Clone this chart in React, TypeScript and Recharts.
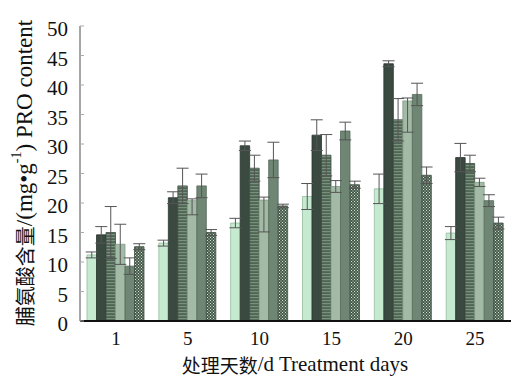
import React from 'react';
import { BarChart, Bar, XAxis, YAxis, ErrorBar } from 'recharts';

// Treatment days (categories)
const days = ['1', '5', '10', '15', '20', '25'];

// Six treatments, PRO content (mg·g-1)
const s1 = [11.2, 13.2, 16.6, 21.1, 22.4, 14.9];
const s2 = [14.6, 20.9, 29.7, 31.5, 43.6, 27.7];
const s3 = [15.0, 22.9, 25.9, 28.1, 34.1, 26.7];
const s4 = [13.0, 20.4, 20.5, 22.8, 37.3, 23.5];
const s5 = [9.3, 22.9, 27.3, 32.2, 38.4, 20.4];
const s6 = [12.6, 15.0, 19.5, 23.1, 24.7, 16.6];

// Error bars ([lower, upper] where asymmetric)
const e1 = [0.5, 0.5, 0.8, 2.2, 2.5, 1.1];
const e2 = [1.4, 1.0, 0.8, 2.6, 0.5, 2.4];
const e3 = [4.4, 3.0, 2.2, 3.5, 3.6, 1.4];
const e4: (number | [number, number])[] = [3.4, [2.4, 0.3], [5.4, 0.5], 1.0, [5.3, 0.5], 0.7];
const e5 = [1.4, 2.0, 3.0, 1.5, 1.9, 1.0];
const e6 = [0.5, 0.5, 0.3, 0.6, 1.4, 1.0];

const yTicks = [0, 5, 10, 15, 20, 25, 30, 35, 40, 45, 50];

const data = days.map((d, i) => ({
  day: d,
  s1: s1[i], e1: e1[i],
  s2: s2[i], e2: e2[i],
  s3: s3[i], e3: e3[i],
  s4: s4[i], e4: e4[i],
  s5: s5[i], e5: e5[i],
  s6: s6[i], e6: e6[i],
}));

const SERIF = '"Liberation Serif", "Times New Roman", "Noto Sans CJK SC", serif';

const YTitle = () => (
  <text
    x={24}
    y={173}
    transform="rotate(-90, 24, 173)"
    textAnchor="middle"
    dominantBaseline="central"
    fontFamily={SERIF}
    fontSize={23}
    fill="#111"
  >
    <tspan fontFamily='"Noto Sans CJK SC"' fontSize={20}>脯氨酸含量</tspan>
    <tspan>/(mg•g</tspan>
    <tspan fontSize={14} dy={-8}>-1</tspan>
    <tspan dy={8}>) PRO content</tspan>
  </text>
);

const XTitle = () => (
  <text
    x={295}
    y={364}
    textAnchor="middle"
    dominantBaseline="central"
    fontFamily={SERIF}
    fontSize={21}
    fill="#111"
  >
    <tspan fontFamily='"Noto Sans CJK SC"' fontSize={19}>处理天数</tspan>
    <tspan>/d Treatment days</tspan>
  </text>
);

const errProps = { stroke: '#555', strokeWidth: 1, width: 6, direction: 'y' as const, isAnimationActive: false };

export default function App() {
  return (
    <div style={{ position: 'absolute', left: 0, top: 0, background: '#fff' }}>
      <BarChart
        width={512}
        height={378}
        data={data}
        margin={{ top: 26, right: 1, left: 0, bottom: 0 }}
        barGap={0}
        barSize={9.5}
      >
        <defs>
          <pattern id="stripes" patternUnits="userSpaceOnUse" width={4} height={3}>
            <rect x={0} y={0} width={4} height={3} fill="#4f6554" />
            <rect x={0} y={0} width={4} height={1.2} fill="#7a917d" />
          </pattern>
          <pattern id="checker" patternUnits="userSpaceOnUse" width={3} height={3}>
            <rect x={0} y={0} width={3} height={3} fill="#475b4b" />
            <rect x={0} y={0} width={1} height={1} fill="#d2e0d2" />
            <rect x={1.5} y={1.5} width={1} height={1} fill="#d2e0d2" />
          </pattern>
        </defs>
        <XAxis
          dataKey="day"
          height={57}
          axisLine={{ stroke: '#111', strokeWidth: 2 }}
          tickLine={false}
          tickSize={0}
          tickMargin={11}
          tick={{ fontFamily: SERIF, fontSize: 19, fill: '#111' }}
          label={{ content: () => <XTitle /> }}
        />
        <YAxis
          width={80}
          domain={[0, 50]}
          ticks={yTicks}
          interval={0}
          axisLine={{ stroke: '#888', strokeWidth: 1.5 }}
          tickLine={{ stroke: '#aaa' }}
          tickSize={-4}
          tickMargin={16}
          tick={{ fontFamily: SERIF, fontSize: 21, fill: '#111', dy: 3 }}
          label={{ content: () => <YTitle /> }}
        />
        <Bar dataKey="s1" fill="#c6ead0" stroke="#93bd9e" strokeWidth={0.8} isAnimationActive={false}>
          <ErrorBar dataKey="e1" {...errProps} />
        </Bar>
        <Bar dataKey="s2" fill="#3a4a40" stroke="#29352e" strokeWidth={0.8} isAnimationActive={false}>
          <ErrorBar dataKey="e2" {...errProps} />
        </Bar>
        <Bar dataKey="s3" fill="url(#stripes)" stroke="#3d4f42" strokeWidth={0.8} isAnimationActive={false}>
          <ErrorBar dataKey="e3" {...errProps} />
        </Bar>
        <Bar dataKey="s4" fill="#a3bba6" stroke="#829b86" strokeWidth={0.8} isAnimationActive={false}>
          <ErrorBar dataKey="e4" {...errProps} />
        </Bar>
        <Bar dataKey="s5" fill="#6f8674" stroke="#56695a" strokeWidth={0.8} isAnimationActive={false}>
          <ErrorBar dataKey="e5" {...errProps} />
        </Bar>
        <Bar dataKey="s6" fill="url(#checker)" stroke="#3f5143" strokeWidth={0.8} isAnimationActive={false}>
          <ErrorBar dataKey="e6" {...errProps} />
        </Bar>
      </BarChart>
    </div>
  );
}
